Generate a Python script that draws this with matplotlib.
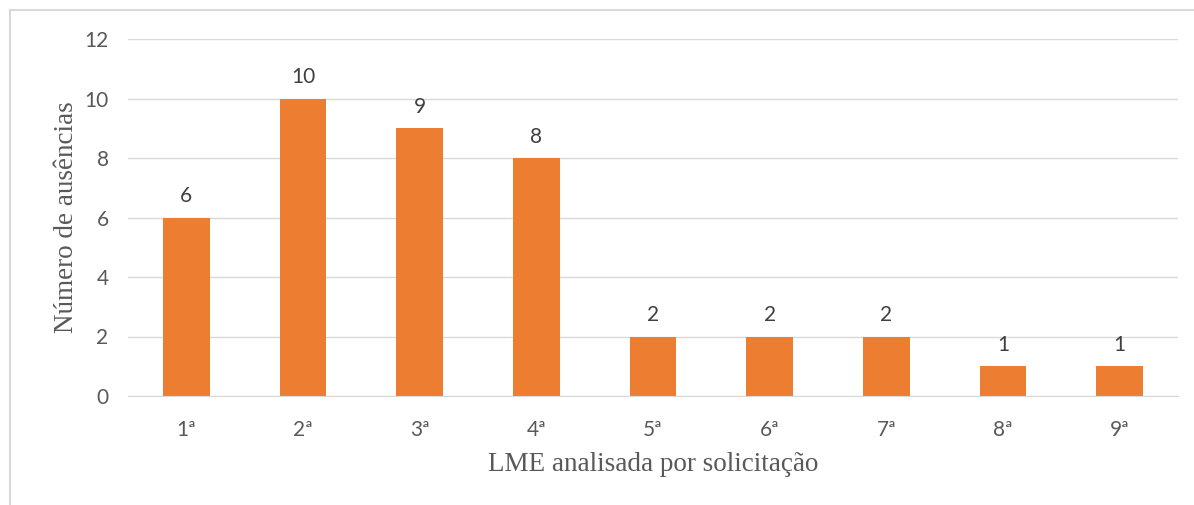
import matplotlib.pyplot as plt
from matplotlib.lines import Line2D

categories = ["1ª", "2ª", "3ª", "4ª", "5ª", "6ª", "7ª", "8ª", "9ª"]
ausencias = [6, 10, 9, 8, 2, 2, 2, 1, 1]
y_ticks = [0, 2, 4, 6, 8, 10, 12]

W, H = 1194, 505
fig = plt.figure(figsize=(W / 100, H / 100), dpi=100)
ax = fig.add_axes([128 / W, 1 - 396 / H, (1178 - 128) / W, (396 - 39) / H])

text_color = "#595959"
sans = ["Lato", "DejaVu Sans"]
serif = ["Liberation Serif", "DejaVu Serif"]

x = list(range(len(categories)))
bars = ax.bar(x, ausencias, width=0.4, color="#ED7D31", zorder=2)

for rect, v in zip(bars, ausencias):
    ax.annotate(str(v), (rect.get_x() + rect.get_width() / 2, v),
                xytext=(0, 8), textcoords="offset points",
                ha="center", va="bottom", fontsize=15,
                color="#404040", family=sans)

ax.set_xlim(-0.5, len(categories) - 0.5)
ax.set_ylim(0, 12)
ax.set_yticks(y_ticks)
ax.set_xticks(x)
ax.set_xticklabels(categories)
ax.grid(axis="y", color="#D9D9D9", linewidth=1, zorder=0)
ax.tick_params(length=0, labelsize=15, labelcolor=text_color)
for lab in ax.get_xticklabels() + ax.get_yticklabels():
    lab.set_family(sans)
ax.tick_params(axis="x", pad=17)
ax.tick_params(axis="y", pad=14)

for side in ["top", "right", "left"]:
    ax.spines[side].set_visible(False)
ax.spines["bottom"].set_color("#D9D9D9")

ax.set_xlabel("LME analisada por solicitação", fontsize=19.5, color=text_color,
              family=serif, labelpad=9)
ax.set_ylabel("Número de ausências", fontsize=19.5, color=text_color,
              family=serif, labelpad=4)

# outer chart frame (cut at right and bottom)
fig.add_artist(Line2D([10 / W, 10 / W], [0, 1 - 10 / H], color="#D9D9D9", lw=1.5))
fig.add_artist(Line2D([10 / W, 1], [1 - 10 / H, 1 - 10 / H], color="#D9D9D9", lw=1.5))

fig.savefig("out.png", dpi=100)
